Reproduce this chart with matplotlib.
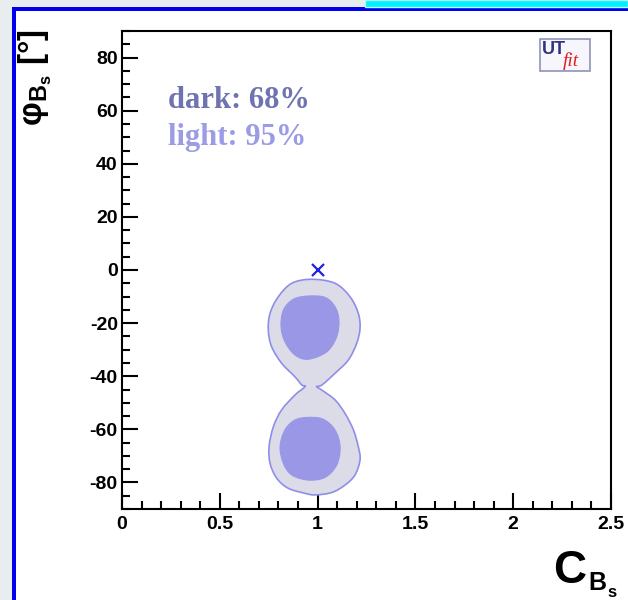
import matplotlib
matplotlib.use("Agg")
import matplotlib.pyplot as plt
from matplotlib.patches import Rectangle, PathPatch
from matplotlib.path import Path
from matplotlib.ticker import MultipleLocator, FuncFormatter

plt.rcParams['axes.unicode_minus'] = False
plt.rcParams['mathtext.fontset'] = 'custom'
plt.rcParams['mathtext.rm'] = 'Liberation Sans:bold'
plt.rcParams['mathtext.it'] = 'Liberation Sans:bold'
plt.rcParams['mathtext.bf'] = 'Liberation Sans:bold'

# 95% region (outer contour), traced clockwise from the top
outer_c = [0.970, 1.089, 1.166, 1.208, 1.217, 1.200, 1.157, 1.089, 1.022, 0.995,
           1.021, 1.089, 1.140, 1.183, 1.208, 1.217, 1.191, 1.140, 1.072, 0.987,
           0.936, 0.850, 0.791, 0.757, 0.752, 0.774, 0.816, 0.884, 0.936, 0.919,
           0.884, 0.816, 0.765, 0.748, 0.757, 0.799, 0.868]
outer_phi = [-3.5, -5.0, -10.1, -16.3, -21.9, -27.6, -33.9, -38.9, -43.3, -43.9,
             -45.2, -48.9, -54.0, -60.2, -66.5, -71.5, -77.2, -81.0, -83.8, -84.7,
             -84.1, -82.2, -78.4, -72.8, -66.5, -59.0, -52.7, -47.1, -43.9, -43.3,
             -40.2, -35.1, -28.9, -22.6, -16.3, -10.1, -5.0]

# 68% regions (two islands)
upper_c = [0.952, 1.038, 1.089, 1.109, 1.098, 1.047, 0.952, 0.884, 0.833, 0.813, 0.825, 0.876]
upper_phi = [-9.8, -10.3, -13.8, -18.8, -25.1, -30.8, -33.6, -32.0, -27.0, -21.3, -15.1, -11.0]
lower_c = [0.952, 1.029, 1.089, 1.115, 1.098, 1.038, 0.952, 0.868, 0.825, 0.808, 0.833, 0.884]
lower_phi = [-55.5, -56.2, -60.2, -66.5, -73.4, -78.1, -79.1, -77.2, -72.8, -66.5, -60.2, -56.5]

# Standard Model point
sm_c = [1.0]
sm_phi = [0.0]

W, H = 628, 600
fig = plt.figure(figsize=(W / 100, H / 100), dpi=100, facecolor='#e8edf0')


def fx(px):
    return px / W


def fy(py):
    return 1 - py / H


def smooth_closed_path(xs, ys):
    """Closed outline through the given vertices, drawn as cubic Bezier segments."""
    n = len(xs)
    pts = list(zip(xs, ys))
    verts = [pts[0]]
    codes = [Path.MOVETO]
    for i in range(n):
        p0, p1 = pts[i - 1], pts[i]
        p2, p3 = pts[(i + 1) % n], pts[(i + 2) % n]
        c1 = (p1[0] + (p2[0] - p0[0]) / 6, p1[1] + (p2[1] - p0[1]) / 6)
        c2 = (p2[0] - (p3[0] - p1[0]) / 6, p2[1] - (p3[1] - p1[1]) / 6)
        verts += [c1, c2, p2]
        codes += [Path.CURVE4] * 3
    verts.append(pts[0])
    codes.append(Path.CLOSEPOLY)
    return Path(verts, codes)


# window frame: white canvas with blue border and cyan title strip
fig.patches.append(Rectangle((fx(16), 0), 1 - fx(16), fy(11), transform=fig.transFigure,
                             facecolor='white', edgecolor='none', zorder=-3))
fig.patches.append(Rectangle((fx(12), 0), fx(4), fy(7), transform=fig.transFigure,
                             facecolor='#0000ee', edgecolor='none', zorder=-2))
fig.patches.append(Rectangle((fx(12), fy(11)), 1 - fx(12), 4 / H, transform=fig.transFigure,
                             facecolor='#0000ee', edgecolor='none', zorder=-2))
fig.patches.append(Rectangle((fx(365), fy(7)), 1 - fx(365), 7 / H, transform=fig.transFigure,
                             facecolor='#00f0ff', edgecolor='#b0ffff', lw=1, zorder=-2))

ax = fig.add_axes([fx(122), fy(509), fx(611) - fx(122), fy(31) - fy(509)])
ax.set_zorder(1)
ax.set_facecolor('white')
ax.set_xlim(0, 2.5)
ax.set_ylim(-90, 90)

ax.add_patch(PathPatch(smooth_closed_path(outer_c, outer_phi),
                       facecolor='#dcdce8', edgecolor='#8e8ee8', lw=1.2, zorder=2))
ax.add_patch(PathPatch(smooth_closed_path(upper_c, upper_phi),
                       facecolor='#9a98e6', edgecolor='#9a98e6', lw=0.8, zorder=3))
ax.add_patch(PathPatch(smooth_closed_path(lower_c, lower_phi),
                       facecolor='#9a98e6', edgecolor='#9a98e6', lw=0.8, zorder=3))
ax.plot(sm_c, sm_phi, marker='x', color='#2020ee', ms=9, mew=1.6, ls='none', zorder=4)

for side in ('top', 'right', 'left', 'bottom'):
    ax.spines[side].set_linewidth(1.5)
    ax.spines[side].set_color('black')

ax.xaxis.set_major_locator(MultipleLocator(0.5))
ax.xaxis.set_minor_locator(MultipleLocator(0.1))
ax.yaxis.set_major_locator(MultipleLocator(20))
ax.yaxis.set_minor_locator(MultipleLocator(5))
ax.xaxis.set_major_formatter(FuncFormatter(lambda v, p: '%g' % v))
ax.yaxis.set_major_formatter(FuncFormatter(lambda v, p: '%g' % v))
ax.tick_params(which='both', direction='in', top=False, right=False, width=1.5, color='black')
ax.tick_params(which='major', length=11.5)
ax.tick_params(which='minor', length=6)
ax.tick_params(axis='y', which='major', pad=3)
ax.tick_params(axis='x', which='major', pad=5)
for lab in ax.get_xticklabels() + ax.get_yticklabels():
    lab.set_fontfamily('Liberation Sans')
    lab.set_fontweight('bold')
    lab.set_fontsize(14)

# x-axis title: C with subscript B_s
bold_sans = dict(fontfamily='Liberation Sans', fontweight='bold', color='black')
fig.text(fx(553), fy(583), 'C', ha='left', va='baseline', fontsize=33, **bold_sans)
fig.text(fx(588), fy(590), 'B', ha='left', va='baseline', fontsize=18, **bold_sans)
fig.text(fx(607), fy(597), 's', ha='left', va='baseline', fontsize=12, **bold_sans)

# y-axis title
fig.text(fx(35), fy(29), r'$\mathrm{φ_{B_s}}$ [°]', rotation=90, ha='center', va='top',
         fontsize=24, **bold_sans)

# confidence level legend
ax.text(0.235, 64, 'dark: 68%', fontfamily='Liberation Serif', fontweight='bold',
        fontsize=22, color='#6f73b0', ha='left', va='center')
ax.text(0.235, 50, 'light: 95%', fontfamily='Liberation Serif', fontweight='bold',
        fontsize=22, color='#9c9ce6', ha='left', va='center')

# UTfit badge
fig.patches.append(Rectangle((fx(540), fy(71)), fx(590) - fx(540), 32 / H,
                             transform=fig.transFigure, facecolor='#f6f6fc',
                             edgecolor='#8f93b8', lw=1.2, zorder=5))
fig.text(fx(542), fy(50), 'UT', fontfamily='Liberation Sans', fontweight='bold',
         fontsize=13, color='#33337a', ha='left', va='center', zorder=6)
fig.text(fx(563), fy(61), 'fit', fontfamily='Liberation Serif', style='italic',
         fontsize=14, color='#e02020', ha='left', va='center', zorder=6)

fig.savefig('out.png', dpi=100, facecolor=fig.get_facecolor())
